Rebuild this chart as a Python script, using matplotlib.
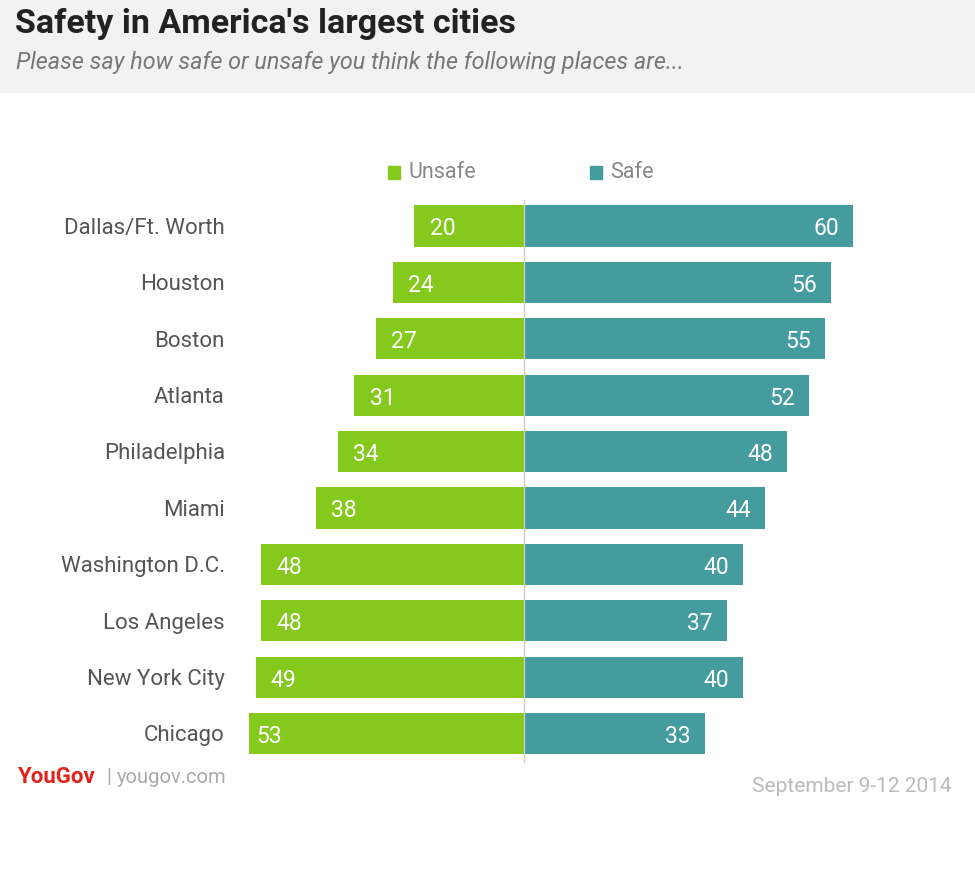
import matplotlib.pyplot as plt
from matplotlib.patches import Rectangle

# data
cities = ["Dallas/Ft. Worth", "Houston", "Boston", "Atlanta", "Philadelphia",
          "Miami", "Washington D.C.", "Los Angeles", "New York City", "Chicago"]
unsafe = [20, 24, 27, 31, 34, 38, 48, 48, 49, 53]
safe = [60, 56, 55, 52, 48, 44, 40, 37, 40, 33]

GREEN = "#84c91c"
TEAL = "#459c9e"
W, H = 975, 872

plt.rcParams["font.family"] = ["Roboto", "DejaVu Sans"]

fig = plt.figure(figsize=(W / 100, H / 100), dpi=100)


def fx(px):
    return px / W


def fy(py):
    return 1 - py / H


# header band
fig.patches.append(Rectangle((0, fy(92)), 1, 92 / H, transform=fig.transFigure,
                             color="#f2f2f2", zorder=0))
fig.text(fx(15), fy(24), "Safety in America's largest cities", fontsize=24.5,
         fontweight="bold", color="#222222", va="center", ha="left")
fig.text(fx(16), fy(63), "Please say how safe or unsafe you think the following places are...",
         fontsize=16.8, style="italic", color="#777777", va="center", ha="left")

# bar axes: centre line at x=524 px
x_left, x_right = -50.2, 68.6
ax_l, ax_r = 249, 900
y_top, y_bot = 200, 763
ax = fig.add_axes([fx(ax_l), fy(y_bot), (ax_r - ax_l) / W, (y_bot - y_top) / H])
ax.set_xlim(x_left, x_right)
ax.set_ylim(9.52, -0.46)
ax.axis("off")

ypos = list(range(len(cities)))
ax.barh(ypos, [-u for u in unsafe], height=0.73, color=GREEN, zorder=2)
ax.barh(ypos, safe, height=0.73, color=TEAL, zorder=2)
ax.axvline(0, color="#cccccc", lw=1, zorder=3)

for y, u, s, name in zip(ypos, unsafe, safe, cities):
    ax.text(max(-u + 2.8, x_left + 1.4), y + 0.05, str(u), color="white", fontsize=16.5,
            va="center", ha="left", zorder=4)
    ax.text(s - 2.6, y + 0.05, str(s), color="white", fontsize=16.5,
            va="center", ha="right", zorder=4)
    ax.text(x_left - 4.4, y + 0.04, name, color="#555555", fontsize=16,
            va="center", ha="right", clip_on=False)

# legend
fig.patches.append(Rectangle((fx(388), fy(179)), 12 / W, 13 / H, transform=fig.transFigure,
                             color=GREEN))
fig.text(fx(408), fy(173), "Unsafe", fontsize=15.5, color="#888888", va="center")
fig.patches.append(Rectangle((fx(590), fy(179)), 12 / W, 13 / H, transform=fig.transFigure,
                             color=TEAL))
fig.text(fx(610), fy(173), "Safe", fontsize=15.5, color="#888888", va="center")

# footer
fig.text(fx(18), fy(777), "YouGov", fontsize=16, fontweight="bold", color="#e0241b",
         va="center", ha="left")
fig.text(fx(106), fy(777), "|", fontsize=15, color="#aaaaaa", va="center", ha="left")
fig.text(fx(117), fy(777), "yougov.com", fontsize=14.5, color="#aaaaaa",
         va="center", ha="left")
fig.text(fx(952), fy(786), "September 9-12 2014", fontsize=15,
         color="#bbbbbb", va="center", ha="right")

fig.savefig("out.png", dpi=100)
